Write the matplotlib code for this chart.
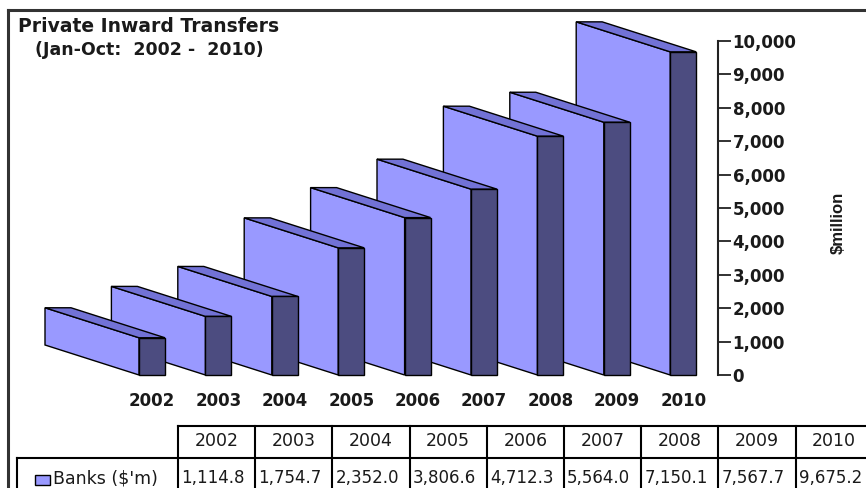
import matplotlib
matplotlib.use("Agg")
import matplotlib.pyplot as plt
from matplotlib.patches import Polygon, Rectangle
from matplotlib.lines import Line2D
from matplotlib import font_manager

# ---- data -------------------------------------------------------------
years = ["2002", "2003", "2004", "2005", "2006", "2007", "2008", "2009", "2010"]
banks = [1114.8, 1754.7, 2352.0, 3806.6, 4712.3, 5564.0, 7150.1, 7567.7, 9675.2]
y_ticks = [0, 1000, 2000, 3000, 4000, 5000, 6000, 7000, 8000, 9000, 10000]
title = "Private Inward Transfers"
subtitle = "(Jan-Oct:  2002 -  2010)"
unit_label = "$million"
series_label = "Banks ($'m)"

# ---- style ------------------------------------------------------------
W, H = 866, 488
C_SIDE = "#9999FF"
C_TOP = "#7272D6"
C_FRONT = "#4C4C80"
C_TEXT = "#1a1a1a"
FONT = "DejaVu Sans"

installed = {f.name for f in font_manager.fontManager.ttflist}
NARROW = next((n for n in ["Liberation Sans Narrow", "DejaVu Sans Condensed"]
               if n in installed), "Liberation Sans")


def fx(px):
    return px / W


def fy(py):
    return 1 - py / H


fig = plt.figure(figsize=(W / 100, H / 100), dpi=100)
fig.patch.set_facecolor("white")

# plot area: y = 0 at 375 px, y = 10000 at 41 px, bar centres 66.4 px apart
y0_px, y10k_px = 375.0, 41.0
x_step, x_first = 66.4, 152.0
right_px = 718.0
ax = fig.add_axes([0, fy(y0_px), fx(right_px), (y0_px - y10k_px) / H])
ax.set_xlim(-x_first / x_step, (right_px - x_first) / x_step)
ax.set_ylim(0, 10000)
ax.patch.set_visible(False)

px_per_unit_y = (y0_px - y10k_px) / 10000.0
hw = 13.0 / x_step            # half width of front face
dx = -94.0 / x_step           # depth offset (x)
dy = 30.0 / px_per_unit_y     # depth offset (y)

# draw back-to-front: right-most bar first
for i in range(len(banks) - 1, -1, -1):
    v = banks[i]
    z = 10 + (len(banks) - i) * 3
    xl, xr = i - hw, i + hw
    side = [(xl, 0), (xl, v), (xl + dx, v + dy), (xl + dx, dy)]
    top = [(xl, v), (xr, v), (xr + dx, v + dy), (xl + dx, v + dy)]
    front = [(xl, 0), (xr, 0), (xr, v), (xl, v)]
    for pts, col, k in [(side, C_SIDE, 0), (top, C_TOP, 1), (front, C_FRONT, 2)]:
        ax.add_patch(Polygon(pts, closed=True, facecolor=col, edgecolor="black",
                             linewidth=1.0, joinstyle="miter", clip_on=False,
                             zorder=z + k))

# axes cosmetics
for s in ["left", "top", "bottom"]:
    ax.spines[s].set_visible(False)
ax.spines["right"].set_linewidth(1.5)
ax.spines["right"].set_color("#222222")
ax.yaxis.tick_right()
ax.set_yticks(y_ticks)
ax.set_yticklabels([f"{t:,}" for t in y_ticks], fontfamily=FONT,
                   fontweight="bold", fontsize=12, color=C_TEXT)
ax.tick_params(axis="y", direction="out", length=9, width=1.3,
               color="#222222", pad=1.5)
ax.set_xticks(range(len(years)))
ax.set_xticklabels(years, fontfamily=FONT, fontweight="bold", fontsize=12,
                   color=C_TEXT)
ax.tick_params(axis="x", length=0, pad=12)

# titles and unit label
fig.text(fx(18), fy(26), title, fontfamily=FONT, fontweight="bold",
         fontsize=13.5, color=C_TEXT, ha="left", va="center")
fig.text(fx(35), fy(50), subtitle, fontfamily=FONT, fontweight="bold",
         fontsize=12.5, color=C_TEXT, ha="left", va="center")
fig.text(fx(838), fy(223), unit_label, fontfamily=NARROW, fontweight="heavy",
         fontsize=12, color=C_TEXT, ha="center", va="center", rotation=90)

# outer frame
fig.add_artist(Line2D([fx(8), fx(8)], [fy(10), fy(500)], color="#333333",
                      linewidth=2.2, transform=fig.transFigure))
fig.add_artist(Line2D([fx(8), fx(880)], [fy(10), fy(10)], color="#333333",
                      linewidth=2.2, transform=fig.transFigure))

# data table
col_left0, col_w = 178.0, 77.2
head_top, head_bot, row_bot = 426.0, 458.0, 500.0
label_left = 17.0
edges = [col_left0 + j * col_w for j in range(len(years) + 1)]
tbl_lines = []
for ex in edges:
    tbl_lines.append(([ex, ex], [head_top, row_bot]))
tbl_lines.append(([col_left0, 880], [head_top, head_top]))
tbl_lines.append(([label_left, 880], [head_bot, head_bot]))
tbl_lines.append(([label_left, label_left], [head_bot, row_bot]))
for xs, ys in tbl_lines:
    fig.add_artist(Line2D([fx(x) for x in xs], [fy(y) for y in ys],
                          color="black", linewidth=1.5, zorder=5,
                          transform=fig.transFigure))

for j, (yr, val) in enumerate(zip(years, banks)):
    cx = edges[j] + col_w / 2
    fig.text(fx(cx), fy(441), yr, fontfamily=FONT, fontsize=12.5,
             color=C_TEXT, ha="center", va="center", zorder=3)
    fig.text(fx(edges[j] + 3), fy(478), f"{val:,.1f}", fontfamily=FONT,
             fontsize=12, color=C_TEXT, ha="left", va="center", zorder=3)

fig.add_artist(Rectangle((fx(35), fy(485)), fx(15), 10 / H, facecolor=C_SIDE,
                         edgecolor="black", linewidth=1.0,
                         transform=fig.transFigure))
fig.text(fx(53), fy(479), series_label, fontfamily=FONT, fontsize=12.5,
         color=C_TEXT, ha="left", va="center")

fig.savefig("out.png", dpi=100, facecolor="white")
